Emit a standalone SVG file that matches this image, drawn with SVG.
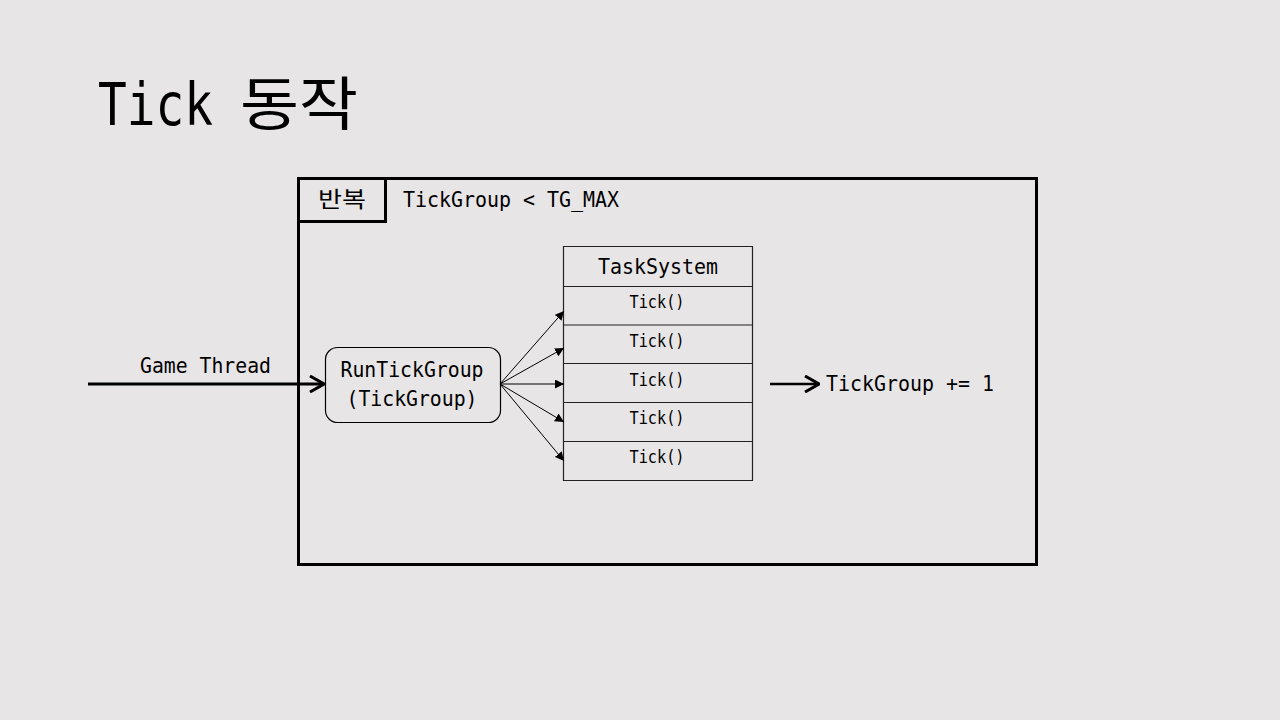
<svg xmlns="http://www.w3.org/2000/svg" width="1280" height="720" viewBox="0 0 1280 720">
<style>
text{font-family:"DejaVu Sans Mono","Noto Sans CJK KR",monospace;fill:#000}
.t{font-size:22px}
.s{font-size:17px}
.thin{stroke:#000;stroke-width:1.2;fill:none}
.thick{stroke:#000;stroke-width:3;fill:none}
</style>
<defs>
<marker id="tri" viewBox="0 0 10 10" refX="10" refY="5" markerWidth="9" markerHeight="9" markerUnits="userSpaceOnUse" orient="auto">
<path d="M0,0 L10,5 L0,10 z" fill="#000"/>
</marker>
<marker id="chev" viewBox="0 0 16 18" refX="15" refY="9" markerWidth="16" markerHeight="18" markerUnits="userSpaceOnUse" orient="auto">
<path d="M1,1 L15,9 L1,17" fill="none" stroke="#000" stroke-width="3"/>
</marker>
</defs>
<rect width="1280" height="720" fill="#e7e5e6"/>
<text x="98" y="125" font-size="58" textLength="115" lengthAdjust="spacingAndGlyphs">Tick</text>
<text x="240" y="125" font-size="58" textLength="118" lengthAdjust="spacingAndGlyphs">동작</text>
<g id="loop">
<rect x="298.5" y="178.5" width="738" height="386" class="thick"/>
<rect x="298.5" y="178.5" width="87" height="43" class="thick"/>
<text x="342" y="207" class="t" text-anchor="middle" textLength="48" lengthAdjust="spacingAndGlyphs">반복</text>
<text x="403" y="207" class="t" textLength="216" lengthAdjust="spacingAndGlyphs">TickGroup &lt; TG_MAX</text>
</g>
<g id="run">
<rect x="325.5" y="347.5" width="175" height="75" rx="12" class="thin"/>
<text x="412" y="377" class="t" text-anchor="middle" textLength="143" lengthAdjust="spacingAndGlyphs">RunTickGroup</text>
<text x="412" y="406" class="t" text-anchor="middle" textLength="131" lengthAdjust="spacingAndGlyphs">(TickGroup)</text>
</g>
<g id="tasksystem">
<path d="M563.5,246.5 H752.5 M563.5,246 V481 M752.5,246 V481 M563.5,286.5 H752.5 M563.5,325 H752.5 M563.5,363.5 H752.5 M563.5,402.5 H752.5 M563.5,441.5 H752.5 M563.5,480.5 H752.5" stroke="#222" stroke-width="1.2" fill="none"/>
<text x="658" y="274" class="t" text-anchor="middle" textLength="120" lengthAdjust="spacingAndGlyphs">TaskSystem</text>
<text x="657" y="308" class="s" text-anchor="middle" textLength="55" lengthAdjust="spacingAndGlyphs">Tick()</text>
<text x="657" y="347" class="s" text-anchor="middle" textLength="55" lengthAdjust="spacingAndGlyphs">Tick()</text>
<text x="657" y="386" class="s" text-anchor="middle" textLength="55" lengthAdjust="spacingAndGlyphs">Tick()</text>
<text x="657" y="424" class="s" text-anchor="middle" textLength="55" lengthAdjust="spacingAndGlyphs">Tick()</text>
<text x="657" y="463" class="s" text-anchor="middle" textLength="55" lengthAdjust="spacingAndGlyphs">Tick()</text>
</g>
<g id="result">
<text x="826" y="391" class="t" textLength="168" lengthAdjust="spacingAndGlyphs">TickGroup += 1</text>
</g>
<g id="connectors">
<line x1="88" y1="384" x2="324" y2="384" class="thick" marker-end="url(#chev)"/>
<text x="140" y="373" class="t" textLength="131" lengthAdjust="spacingAndGlyphs">Game Thread</text>
<line x1="500" y1="384" x2="564" y2="311" stroke="#000" stroke-width="1" marker-end="url(#tri)"/>
<line x1="500" y1="384" x2="564" y2="348" stroke="#000" stroke-width="1" marker-end="url(#tri)"/>
<line x1="500" y1="384" x2="564" y2="384" stroke="#000" stroke-width="1" marker-end="url(#tri)"/>
<line x1="500" y1="384" x2="564" y2="422" stroke="#000" stroke-width="1" marker-end="url(#tri)"/>
<line x1="500" y1="384" x2="564" y2="461" stroke="#000" stroke-width="1" marker-end="url(#tri)"/>
<line x1="770" y1="384" x2="819" y2="384" stroke="#000" stroke-width="2.5" marker-end="url(#chev)"/>
</g>
</svg>
